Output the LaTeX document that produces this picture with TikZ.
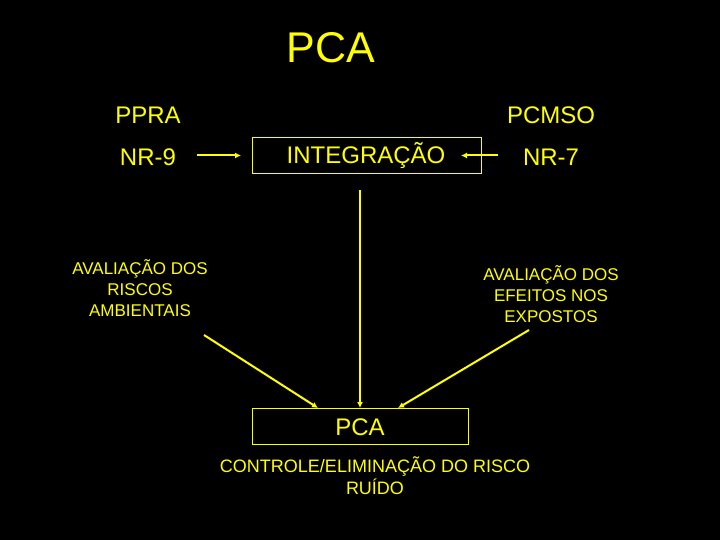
\documentclass[tikz,border=0pt]{standalone}
\usepackage{fontspec}
\setmainfont{Liberation Sans}
\usetikzlibrary{arrows.meta}
\definecolor{ylw}{RGB}{255,255,0}
\begin{document}
\begin{tikzpicture}[x=1pt,y=-1pt,
  txt/.style={text=ylw,inner sep=0pt,align=center,font=\fontsize{#1}{#1}\selectfont},
  lbl/.style={text=ylw,inner sep=0pt,align=center,font=\fontsize{17}{21}\selectfont},
  box/.style={draw=ylw,line width=1pt},
  arr/.style={draw=ylw,line width=2pt,-{Latex[length=6pt,width=6pt]}}]
\fill[black] (0,0) rectangle (720,540);
\useasboundingbox (0,0) rectangle (720,540);
\node[txt=43] (title) at (331,48) {PCA};
\node[txt=24] (ppra) at (148,115) {PPRA};
\node[txt=24] (pcmso) at (551,115) {PCMSO};
\node[txt=24] (nr9) at (148,157) {NR-9};
\node[txt=24] (nr7) at (551,157) {NR-7};
\draw[box] (252,138) rectangle (481,174);
\node[txt=24] (integ) at (366,156) {INTEGRAÇÃO};
\node[lbl] (aval1) at (140,288) {AVALIAÇÃO DOS\\RISCOS\\AMBIENTAIS};
\node[lbl] (aval2) at (551,294) {AVALIAÇÃO DOS\\EFEITOS NOS\\EXPOSTOS};
\draw[box] (252,408) rectangle (468,444);
\node[txt=24] (pca) at (360,427) {PCA};
\node[text=ylw,inner sep=0pt,align=center,font=\fontsize{18}{22}\selectfont] (ctrl) at (375,476) {CONTROLE/ELIMINAÇÃO DO RISCO\\RUÍDO};
\coordinate (a1s) at (197,155.5); \coordinate (a1e) at (241,155.5);
\coordinate (a2s) at (498,155.5); \coordinate (a2e) at (461,155.5);
\coordinate (vs) at (360,190); \coordinate (ve) at (360,408);
\coordinate (ls) at (204,335); \coordinate (le) at (318,408);
\coordinate (rs) at (529,330); \coordinate (re) at (398,408);
\draw[arr] (a1s) -- (a1e);
\draw[arr] (a2s) -- (a2e);
\draw[arr] (vs) -- (ve);
\draw[arr] (ls) -- (le);
\draw[arr] (rs) -- (re);
\end{tikzpicture}
\end{document}
